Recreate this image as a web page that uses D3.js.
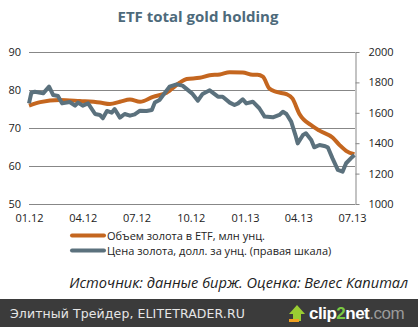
<!DOCTYPE html>
<html><head><meta charset="utf-8">
<script src="https://cdn.jsdelivr.net/npm/d3@7"></script>
<style>body{margin:0;background:#fff}svg{display:block}</style>
</head><body><svg id="c" width="418" height="327"></svg>
<script>
const title = "ETF total gold holding";
const etfDates = ["2012-01-01","2012-01-20","2012-02-22","2012-03-27","2012-04-30","2012-05-17","2012-06-03","2012-06-20","2012-07-07","2012-07-29","2012-08-21","2012-09-12","2012-09-24","2012-10-16","2012-11-02","2012-11-19","2012-12-06","2012-12-28","2013-01-14","2013-01-22","2013-01-31","2013-02-11","2013-02-23","2013-03-12","2013-03-22","2013-04-03","2013-04-25","2013-05-07","2013-05-29","2013-06-10","2013-06-21","2013-07-05"];
const etfValues = [75.9,76.8,77.4,77.1,76.7,76.3,76.9,77.5,76.9,78.2,79.3,81.9,82.9,83.2,83.9,84.1,84.7,84.6,84.0,84.0,83.5,80.4,79.5,78.9,77.8,73.7,70.5,69.3,67.5,65.5,64.0,63.1];
const priceDates = ["2012-01-01","2012-01-05","2012-01-11","2012-01-25","2012-02-04","2012-02-11","2012-02-19","2012-02-26","2012-03-10","2012-03-19","2012-03-24","2012-04-01","2012-04-10","2012-04-22","2012-04-30","2012-05-05","2012-05-12","2012-05-20","2012-05-25","2012-06-03","2012-06-11","2012-06-20","2012-06-28","2012-07-07","2012-07-18","2012-07-27","2012-08-01","2012-08-09","2012-08-26","2012-09-07","2012-09-17","2012-10-03","2012-10-13","2012-10-21","2012-11-02","2012-11-16","2012-11-24","2012-12-06","2012-12-14","2012-12-20","2012-12-28","2013-01-03","2013-01-14","2013-01-25","2013-02-03","2013-02-17","2013-02-28","2013-03-06","2013-03-12","2013-03-20","2013-03-28","2013-03-31","2013-04-09","2013-04-14","2013-04-23","2013-04-28","2013-05-07","2013-05-15","2013-05-21","2013-05-29","2013-06-07","2013-06-15","2013-06-21","2013-06-29","2013-07-05"];
const priceValues = [1662,1732,1739,1728,1772,1717,1711,1662,1671,1647,1667,1647,1662,1592,1586,1564,1612,1601,1625,1568,1592,1581,1590,1614,1612,1618,1667,1684,1772,1787,1779,1728,1680,1724,1748,1706,1706,1667,1651,1662,1689,1662,1673,1630,1575,1570,1586,1607,1592,1542,1443,1399,1454,1465,1421,1373,1388,1382,1373,1300,1224,1213,1268,1300,1322];
const xTickDates = ["2012-01-01","2012-04-01","2012-07-01","2012-10-01","2013-01-01","2013-04-01","2013-07-01"];
const xTickLabels = ["01.12","04.12","07.12","10.12","01.13","04.13","07.13"];
const leftTicks = [50,60,70,80,90];
const rightTicks = [1000,1200,1400,1600,1800,2000];
const legendLabels = ["Объем золота в ETF, млн унц.","Цена золота, долл. за унц. (правая шкала)"];
const sourceText = "Источник: данные бирж. Оценка: Велес Капитал";
const footerText = "Элитный Трейдер, ELITETRADER.RU";

const parse = d3.timeParse("%Y-%m-%d");
const svg = d3.select("#c");
const font = "'Open Sans', sans-serif";
const orange = "#c4661f", gray = "#5b717d";

const x = d3.scaleTime().domain([parse("2012-01-01"), parse("2013-07-01")]).range([29, 352]);
const yL = d3.scaleLinear().domain([50,90]).range([204,52]);
const yR = d3.scaleLinear().domain([1000,2000]).range([204,52]);

svg.append("text").attr("x",198).attr("y",22).attr("text-anchor","middle")
  .attr("font-family",font).attr("font-weight","bold").attr("font-size",15).attr("fill","#4d6a7b").text(title);

// grid
svg.append("g").selectAll("line").data(leftTicks).join("line")
  .attr("x1",29).attr("x2",355).attr("y1",d=>Math.round(yL(d))+0.5).attr("y2",d=>Math.round(yL(d))+0.5)
  .attr("stroke","#878787").attr("stroke-width",1);

// left axis labels
const gl = svg.append("g").attr("transform","translate(27,0)")
  .call(d3.axisLeft(yL).tickValues(leftTicks).tickSize(0).tickPadding(6));
gl.select(".domain").remove();
gl.selectAll("text").attr("font-family",font).attr("font-size",11).attr("fill","#222");

// right axis
const gr = svg.append("g").attr("transform","translate(355.5,0)")
  .call(d3.axisRight(yR).tickValues(rightTicks).tickSize(4).tickPadding(9).tickSizeOuter(0).tickFormat(d3.format("d")));
gr.select(".domain").attr("stroke","#878787");
gr.selectAll("line").attr("stroke","#878787");
gr.selectAll("text").attr("font-family",font).attr("font-size",11).attr("fill","#222");

// x axis labels
const gx = svg.append("g").attr("transform","translate(0,204)")
  .call(d3.axisBottom(x).tickValues(xTickDates.map(parse)).tickSize(0).tickPadding(10)
    .tickFormat((d,i)=>xTickLabels[i]));
gx.select(".domain").remove();
gx.selectAll("text").attr("font-family",font).attr("font-size",11).attr("fill","#222");

const etf = etfDates.map((d,i)=>({d:parse(d),v:etfValues[i]}));
const price = priceDates.map((d,i)=>({d:parse(d),v:priceValues[i]}));

svg.append("path").datum(etf).attr("fill","none").attr("stroke",orange).attr("stroke-width",4)
  .attr("stroke-linejoin","round").attr("d",d3.line().x(d=>x(d.d)).y(d=>yL(d.v)).curve(d3.curveMonotoneX));
svg.append("path").datum(price).attr("fill","none").attr("stroke",gray).attr("stroke-width",4)
  .attr("stroke-linejoin","round").attr("d",d3.line().x(d=>x(d.d)).y(d=>yR(d.v)));

// legend
[[orange,235.5],[gray,250.5]].forEach(([c,yy],i)=>{
  svg.append("line").attr("x1",72).attr("x2",104).attr("y1",yy).attr("y2",yy)
    .attr("stroke",c).attr("stroke-width",4).attr("stroke-linecap","round");
  svg.append("text").attr("x",107).attr("y",yy+4).attr("font-family",font).attr("font-size",11)
    .attr("fill","#222").text(legendLabels[i]);
});

svg.append("text").attr("x",408).attr("y",288).attr("text-anchor","end").attr("font-family",font)
  .attr("font-style","italic").attr("font-size",14.6).attr("fill","#222").text(sourceText);

// footer
svg.append("rect").attr("x",0).attr("y",299).attr("width",418).attr("height",28).attr("fill","#3b3b3b");
svg.append("text").attr("x",10).attr("y",318).attr("font-family","'DejaVu Sans', sans-serif")
  .attr("font-size",12.5).attr("fill","#e6e6e6").attr("letter-spacing",0.1).text(footerText);
// clip2net logo
const lg = svg.append("g");
lg.append("path").attr("d","M293,321 L293,314 L289,314 L297,305 L305,314 L301,314 L301,321 Z").attr("fill","#9acd32");
lg.append("rect").attr("x",289).attr("y",319).attr("width",10).attr("height",3).attr("fill","#f0a020");
const t = lg.append("text").attr("x",309).attr("y",319).attr("font-family","'Liberation Sans', Arial, sans-serif")
  .attr("font-weight","bold").attr("font-size",17).attr("letter-spacing",-0.5);
t.append("tspan").attr("fill","#ffffff").text("clip");
t.append("tspan").attr("fill","#7ac943").text("2");
t.append("tspan").attr("fill","#ffffff").text("net");
t.append("tspan").attr("fill","#9a9a9a").attr("font-weight","normal").text(".com");
</script></body></html>
